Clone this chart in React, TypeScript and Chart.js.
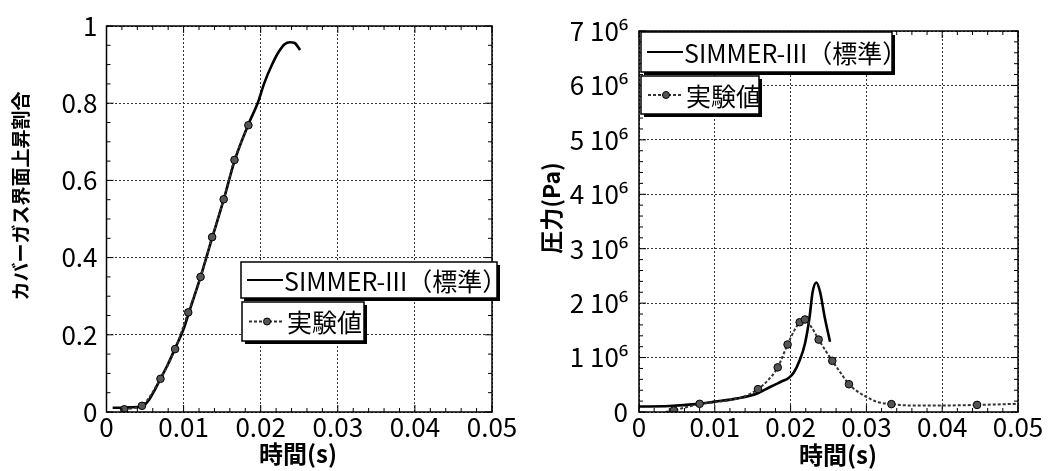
import React, { useEffect, useRef } from "react";
import { Chart, registerables } from "chart.js";

Chart.register(...registerables);

const FONT = '"Noto Sans CJK JP", "Noto Sans", sans-serif';

// ---- tick values / labels ----
const xTickValues = [0, 0.01, 0.02, 0.03, 0.04, 0.05];
const xTickLabels = ["0", "0.01", "0.02", "0.03", "0.04", "0.05"];
const leftYTickValues = [0, 0.2, 0.4, 0.6, 0.8, 1];
const leftYTickLabels = ["0", "0.2", "0.4", "0.6", "0.8", "1"];
const rightYTickValues = [0, 1e6, 2e6, 3e6, 4e6, 5e6, 6e6, 7e6];
const rightYTickLabels = ["0", "1 10⁶", "2 10⁶", "3 10⁶", "4 10⁶", "5 10⁶", "6 10⁶", "7 10⁶"];

// ---- text ----
const xTitle = "時間(s)";
const leftYTitle = "カバーガス界面上昇割合";
const rightYTitle = "圧力(Pa)";
const legendSim = "SIMMER-III（標準）";
const legendExp = "実験値";

// ---- left chart: cover-gas interface rise ratio ----
const simLeftT = [0.0008, 0.002, 0.003, 0.004, 0.0046, 0.0055, 0.0062, 0.007, 0.008, 0.0089, 0.01, 0.0106, 0.0122, 0.0137, 0.0152, 0.0166, 0.0184, 0.0196, 0.0205, 0.0214, 0.0223, 0.0231, 0.0238, 0.0244, 0.0251];
const simLeftV = [0.011, 0.011, 0.012, 0.013, 0.014, 0.031, 0.055, 0.086, 0.125, 0.165, 0.215, 0.252, 0.35, 0.451, 0.55, 0.65, 0.745, 0.8, 0.854, 0.897, 0.932, 0.953, 0.958, 0.956, 0.938];
const expLeftT = [0.0023, 0.0035, 0.0046, 0.007, 0.0089, 0.0106, 0.0122, 0.0137, 0.0152, 0.0166, 0.0184];
const expLeftV = [0.007, 0.01, 0.016, 0.086, 0.163, 0.258, 0.35, 0.453, 0.551, 0.653, 0.743];
const expLeftMarked = [true, false, true, true, true, true, true, true, true, true, true];

// ---- right chart: pressure (Pa) ----
const simRightT = [0, 0.004, 0.0078, 0.01, 0.013, 0.0156, 0.0173, 0.0188, 0.0197, 0.0204, 0.0212, 0.0219, 0.0225, 0.0229, 0.0234, 0.0239, 0.0245, 0.0252];
const simRightV = [1.0e5, 1.1e5, 1.5e5, 1.9e5, 2.5e5, 3.4e5, 4.6e5, 5.6e5, 6.2e5, 7.2e5, 9.5e5, 1.26e6, 1.74e6, 2.2e6, 2.38e6, 2.2e6, 1.74e6, 1.29e6];
const expRightT = [0.0035, 0.0046, 0.006, 0.008, 0.01, 0.012, 0.014, 0.0157, 0.017, 0.0183, 0.0196, 0.0205, 0.0212, 0.0219, 0.0228, 0.0237, 0.0246, 0.0255, 0.0266, 0.0277, 0.029, 0.03, 0.0313, 0.0333, 0.036, 0.04, 0.0446, 0.05];
const expRightV = [0.0, 3e4, 8e4, 1.5e5, 1.8e5, 2.2e5, 2.9e5, 4.2e5, 5.8e5, 8.2e5, 1.24e6, 1.5e6, 1.65e6, 1.7e6, 1.55e6, 1.33e6, 1.13e6, 9.4e5, 7.2e5, 5.1e5, 3.6e5, 2.8e5, 1.9e5, 1.45e5, 1.2e5, 1.2e5, 1.3e5, 1.5e5];
const expRightMarked = [false, true, false, true, false, false, false, true, false, true, true, false, true, true, false, true, false, true, false, true, false, false, false, true, false, false, true, false];

type Geo = {
  yWidth: number;
  pad: { top: number; right: number; left: number; bottom: number };
  xTitlePos: [number, number];
  yTitlePos: [number, number];
  yTitleSize: number;
  box1: [number, number, number, number];
  box2: [number, number, number, number];
  yMinorStep: number;
  yMajorEvery: number;
  yTickPad: number;
};

function drawBox(ctx: CanvasRenderingContext2D, b: [number, number, number, number]) {
  const [x, y, w, h] = b;
  ctx.fillStyle = "#000";
  ctx.fillRect(x + 3, y + 3, w, h);
  ctx.fillStyle = "#fff";
  ctx.fillRect(x, y, w, h);
  ctx.strokeStyle = "#000";
  ctx.lineWidth = 1.5;
  ctx.strokeRect(x, y, w, h);
}

function makeDecor(g: Geo, yTitle: string) {
  return {
    id: "decor",
    afterDraw(chart: any) {
      const ctx: CanvasRenderingContext2D = chart.ctx;
      const { left, right, top, bottom } = chart.chartArea;
      const xs = chart.scales.x;
      const ys = chart.scales.y;
      ctx.save();
      // frame
      ctx.strokeStyle = "#000";
      ctx.lineWidth = 1.5;
      ctx.setLineDash([]);
      ctx.strokeRect(left, top, right - left, bottom - top);
      // minor/major inside ticks
      ctx.lineWidth = 1;
      ctx.beginPath();
      for (let i = 0; i <= 25; i++) {
        const px = xs.getPixelForValue(i * 0.002);
        const len = i % 5 === 0 ? 7 : 4;
        ctx.moveTo(px, bottom);
        ctx.lineTo(px, bottom - len);
        ctx.moveTo(px, top);
        ctx.lineTo(px, top + len);
      }
      const yMax = ys.max;
      for (let i = 0; i * g.yMinorStep <= yMax + 1e-9; i++) {
        const py = ys.getPixelForValue(i * g.yMinorStep);
        const len = i % g.yMajorEvery === 0 ? 7 : 4;
        ctx.moveTo(left, py);
        ctx.lineTo(left + len, py);
        ctx.moveTo(right, py);
        ctx.lineTo(right - len, py);
      }
      ctx.stroke();
      // titles
      ctx.fillStyle = "#000";
      ctx.textAlign = "center";
      ctx.textBaseline = "middle";
      ctx.font = `bold 24px ${FONT}`;
      ctx.fillText(xTitle, g.xTitlePos[0], g.xTitlePos[1]);
      ctx.save();
      ctx.translate(g.yTitlePos[0], g.yTitlePos[1]);
      ctx.rotate(-Math.PI / 2);
      ctx.font = `bold ${g.yTitleSize}px ${FONT}`;
      ctx.fillText(yTitle, 0, 0);
      ctx.restore();
      // legend boxes
      drawBox(ctx, g.box1);
      drawBox(ctx, g.box2);
      ctx.font = `25px ${FONT}`;
      ctx.textAlign = "left";
      ctx.textBaseline = "middle";
      // entry 1: solid line
      {
        const [bx, by, , bh] = g.box1;
        const cy = by + bh / 2;
        ctx.strokeStyle = "#000";
        ctx.lineWidth = 2;
        ctx.beginPath();
        ctx.moveTo(bx + 6, cy);
        ctx.lineTo(bx + 42, cy);
        ctx.stroke();
        ctx.fillStyle = "#000";
        ctx.fillText(legendSim, bx + 43, cy + 1);
      }
      // entry 2: dotted line with marker
      {
        const [bx, by, , bh] = g.box2;
        const cy = by + bh / 2;
        ctx.strokeStyle = "#333";
        ctx.lineWidth = 2;
        ctx.setLineDash([3, 2]);
        ctx.beginPath();
        ctx.moveTo(bx + 7, cy);
        ctx.lineTo(bx + 42, cy);
        ctx.stroke();
        ctx.setLineDash([]);
        ctx.fillStyle = "#555";
        ctx.strokeStyle = "#000";
        ctx.lineWidth = 1;
        ctx.beginPath();
        ctx.arc(bx + 25, cy, 3.5, 0, Math.PI * 2);
        ctx.fill();
        ctx.stroke();
        ctx.fillStyle = "#000";
        ctx.fillText(legendExp, bx + 45, cy + 1);
      }
      ctx.restore();
    },
  };
}

function buildConfig(
  simT: number[], simV: number[], expT: number[], expV: number[], expMarked: boolean[],
  yMax: number, yTickValues: number[], yTickLabels: string[], g: Geo, yTitle: string
): any {
  return {
    type: "line",
    data: {
      datasets: [
        {
          label: legendExp,
          data: expT.map((t, i) => ({ x: t, y: expV[i] })),
          borderColor: "#333",
          borderWidth: 2,
          borderDash: [3, 2],
          cubicInterpolationMode: "monotone",
          pointRadius: (c: any) => (expMarked[c.dataIndex] ? 3.8 : 0),
          pointBackgroundColor: "#555",
          pointBorderColor: "#000",
          pointBorderWidth: 1,
          order: 0,
        },
        {
          label: legendSim,
          data: simT.map((t, i) => ({ x: t, y: simV[i] })),
          borderColor: "#000",
          borderWidth: 2.6,
          cubicInterpolationMode: "monotone",
          pointRadius: 0,
          order: 1,
        },
      ],
    },
    options: {
      responsive: false,
      animation: false,
      devicePixelRatio: 1,
      layout: { padding: g.pad },
      plugins: { legend: { display: false }, tooltip: { enabled: false } },
      scales: {
        x: {
          type: "linear",
          min: 0,
          max: 0.05,
          afterBuildTicks: (s: any) => {
            s.ticks = xTickValues.map((v) => ({ value: v }));
          },
          afterFit: (s: any) => {
            s.height = 59;
            s.paddingLeft = 0;
            s.paddingRight = 0;
          },
          ticks: {
            callback: (_v: any, i: number) => xTickLabels[i],
            color: "#000",
            font: { family: FONT, size: 26 },
            padding: 0,
            maxRotation: 0,
            autoSkip: false,
          },
          grid: { color: "#333", lineWidth: 1, drawTicks: false },
          border: { display: false, dash: [2, 2] },
        },
        y: {
          type: "linear",
          min: 0,
          max: yMax,
          afterBuildTicks: (s: any) => {
            s.ticks = yTickValues.map((v) => ({ value: v }));
          },
          afterFit: (s: any) => {
            s.width = g.yWidth;
            s.paddingTop = 0;
            s.paddingBottom = 0;
          },
          ticks: {
            callback: (_v: any, i: number) => yTickLabels[i],
            color: "#000",
            font: { family: FONT, size: 26 },
            padding: g.yTickPad,
            autoSkip: false,
          },
          grid: { color: "#333", lineWidth: 1, drawTicks: false },
          border: { display: false, dash: [2, 2] },
        },
      },
    },
    plugins: [makeDecor(g, yTitle)],
  };
}

const leftGeo: Geo = {
  yWidth: 106.5,
  pad: { top: 26, right: 38, left: 0, bottom: 0 },
  xTitlePos: [298, 454],
  yTitlePos: [21, 196],
  yTitleSize: 19,
  box1: [241, 262, 256, 36],
  box2: [242, 302, 122, 39],
  yMinorStep: 0.05,
  yMajorEvery: 4,
  yTickPad: 9,
};

const rightGeo: Geo = {
  yWidth: 109,
  pad: { top: 31, right: 42, left: 0, bottom: 0 },
  xTitlePos: [308, 455],
  yTitlePos: [21, 208],
  yTitleSize: 23,
  box1: [111, 32, 251, 40],
  box2: [111, 76, 118, 38],
  yMinorStep: 2e5,
  yMajorEvery: 5,
  yTickPad: 11,
};

export default function App() {
  const leftRef = useRef<HTMLCanvasElement>(null);
  const rightRef = useRef<HTMLCanvasElement>(null);

  useEffect(() => {
    const c1 = new Chart(
      leftRef.current!,
      buildConfig(simLeftT, simLeftV, expLeftT, expLeftV, expLeftMarked, 1, leftYTickValues, leftYTickLabels, leftGeo, leftYTitle)
    );
    const c2 = new Chart(
      rightRef.current!,
      buildConfig(simRightT, simRightV, expRightT, expRightV, expRightMarked, 7e6, rightYTickValues, rightYTickLabels, rightGeo, rightYTitle)
    );
    return () => {
      c1.destroy();
      c2.destroy();
    };
  }, []);

  return (
    <div style={{ position: "absolute", left: 0, top: 0, width: 1060, height: 471, background: "#fff", display: "flex" }}>
      <canvas ref={leftRef} width={530} height={471} style={{ width: 530, height: 471, display: "block" }} />
      <canvas ref={rightRef} width={530} height={471} style={{ width: 530, height: 471, display: "block" }} />
    </div>
  );
}
